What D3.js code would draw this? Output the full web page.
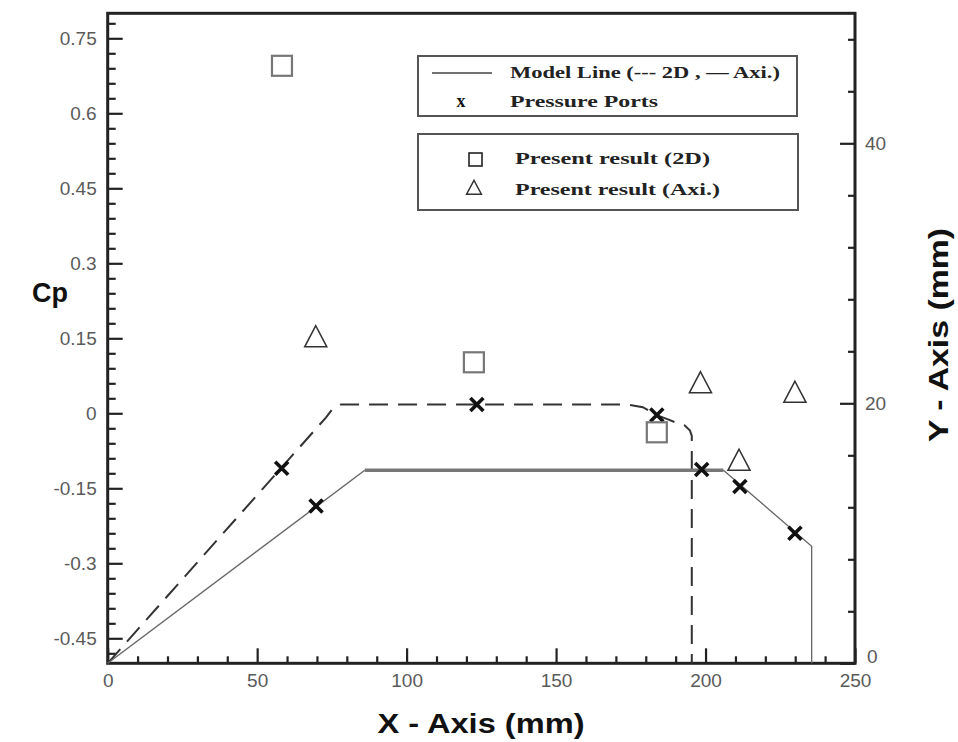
<!DOCTYPE html>
<html>
<head>
<meta charset="utf-8">
<script src="https://cdn.jsdelivr.net/npm/d3@7/dist/d3.min.js"></script>
<style>
  html, body { margin: 0; padding: 0; background: #fff; }
  svg { display: block; }
</style>
</head>
<body>
<svg id="chart" width="958" height="742"></svg>
<script>
// ---------- data ----------
// Model line 2D (dashed), in X (mm) / Y (mm)
const model2D_x = [0, 73, 75, 78, 174, 179, 183.6, 187, 190.3, 193, 194.8, 195.4, 195.4];
const model2D_y = [0, 18.9, 19.5, 19.9, 19.9, 19.7, 19.1, 18.8, 18.5, 18.3, 17.9, 17.5, 0];
// Model line Axi. (solid), in X (mm) / Y (mm)
const modelAxiSlope_x = [0, 86];
const modelAxiSlope_y = [0, 14.85];
const modelAxiFlat_x = [86, 206];
const modelAxiFlat_y = [14.85, 14.85];
const modelAxiTail_x = [206, 235.5, 235.5];
const modelAxiTail_y = [14.85, 9.0, 0];
// Pressure ports, X (mm) / Y (mm)
const ports_x = [58.2, 69.7, 123.5, 183.7, 198.7, 211.5, 229.9];
const ports_y = [15.0, 12.1, 19.9, 19.1, 14.9, 13.6, 10.0];
// Present result (2D): X (mm) / Cp
const res2D_x = [58.3, 122.5, 183.7];
const res2D_cp = [0.695, 0.102, -0.038];
// Present result (Axi.): X (mm) / Cp
const resAxi_x = [69.6, 198.3, 211.2, 229.9];
const resAxi_cp = [0.152, 0.060, -0.095, 0.041];
// tick labels
const xTicks = [0, 50, 100, 150, 200, 250];
const cpTicks = [-0.45, -0.3, -0.15, 0, 0.15, 0.3, 0.45, 0.6, 0.75];
const cpTickLabels = ["-0.45", "-0.3", "-0.15", "0", "0.15", "0.3", "0.45", "0.6", "0.75"];
const yTicks = [0, 20, 40];
const legendLabels = ["Model Line (--- 2D , \u2014 Axi.)", "Pressure Ports", "Present result (2D)", "Present result (Axi.)"];

// ---------- layout ----------
const svg = d3.select("#chart");
const L = 107.7, R = 855, T = 13.3, B = 663.3;
const x = d3.scaleLinear().domain([0, 250]).range([L, R]);
const yCp = d3.scaleLinear().domain([-0.5, 0.8]).range([B, T]);
const yMm = d3.scaleLinear().domain([0, 50]).range([B, T]);

const tickFont = "'Liberation Sans', Arial, sans-serif";

function styleAxis(g) {
  g.select(".domain").remove();
  g.selectAll(".tick line").attr("stroke", "#222").attr("stroke-width", 2.2);
  g.selectAll(".tick text").attr("fill", "#5a5a5a").attr("font-family", tickFont).attr("font-size", 19);
}

// minor ticks
const xMinor = d3.range(0, 251, 10).filter(v => v % 50 !== 0);
const cpMinor = d3.range(-16, 27).map(k => +(k * 0.03).toFixed(2)).filter(v => Math.abs(Math.round(v / 0.15) * 0.15 - v) > 1e-6 && v > -0.5 && v < 0.8);
const yMinor = d3.range(0, 51, 4).filter(v => v % 20 !== 0);

svg.append("g").attr("transform", `translate(0,${B})`)
  .call(d3.axisBottom(x).tickValues(xMinor).tickSize(-7).tickFormat(""))
  .call(styleAxis);
svg.append("g").attr("transform", `translate(0,${B})`)
  .call(d3.axisBottom(x).tickValues(xTicks).tickSize(-15).tickPadding(10).tickFormat(d3.format("d")))
  .call(styleAxis);

svg.append("g").attr("transform", `translate(${L},0)`)
  .call(d3.axisLeft(yCp).tickValues(cpMinor).tickSize(-8).tickFormat(""))
  .call(styleAxis);
svg.append("g").attr("transform", `translate(${L},0)`)
  .call(d3.axisLeft(yCp).tickValues(cpTicks).tickSize(-15).tickPadding(11).tickFormat((d, i) => cpTickLabels[i]))
  .call(styleAxis);

svg.append("g").attr("transform", `translate(${R},0)`)
  .call(d3.axisRight(yMm).tickValues(yMinor).tickSize(-7).tickFormat(""))
  .call(styleAxis);
const rightAxis = svg.append("g").attr("transform", `translate(${R},0)`)
  .call(d3.axisRight(yMm).tickValues(yTicks).tickSize(-15).tickPadding(10).tickFormat(d3.format("d")))
  .call(styleAxis);
// lift the bottom "0" label slightly, as in the reference, so it clears "250"
rightAxis.selectAll(".tick text").filter(d => d === 0).attr("dy", "-0.05em").attr("x", 12);

// frame
svg.append("rect").attr("x", L).attr("y", T).attr("width", R - L).attr("height", B - T)
  .attr("fill", "none").attr("stroke", "#222").attr("stroke-width", 3);

// ---------- model lines ----------
const lineMm = d3.line().x(d => x(d[0])).y(d => yMm(d[1]));
svg.append("path").datum(d3.zip(model2D_x, model2D_y)).attr("d", lineMm)
  .attr("fill", "none").attr("stroke", "#333").attr("stroke-width", 2).attr("stroke-dasharray", "19,10");
svg.append("path").datum(d3.zip(modelAxiSlope_x, modelAxiSlope_y)).attr("d", lineMm)
  .attr("fill", "none").attr("stroke", "#666").attr("stroke-width", 1.4);
svg.append("path").datum(d3.zip(modelAxiFlat_x, modelAxiFlat_y)).attr("d", lineMm)
  .attr("fill", "none").attr("stroke", "#777").attr("stroke-width", 3.5);
svg.append("path").datum(d3.zip(modelAxiTail_x, modelAxiTail_y)).attr("d", lineMm)
  .attr("fill", "none").attr("stroke", "#666").attr("stroke-width", 1.3);

// ---------- markers ----------
function xMark(g, cx, cy, s) {
  g.append("path")
    .attr("d", `M${cx - s},${cy - s}L${cx + s},${cy + s}M${cx - s},${cy + s}L${cx + s},${cy - s}`)
    .attr("stroke", "#111").attr("stroke-width", 3.6).attr("stroke-linecap", "butt").attr("fill", "none");
}
const portsG = svg.append("g");
d3.zip(ports_x, ports_y).forEach(d => xMark(portsG, x(d[0]), yMm(d[1]), 6.5));

svg.append("g").selectAll("rect").data(d3.zip(res2D_x, res2D_cp)).join("rect")
  .attr("x", d => x(d[0]) - 10).attr("y", d => yCp(d[1]) - 10)
  .attr("width", 20).attr("height", 20)
  .attr("fill", "none").attr("stroke", "#777").attr("stroke-width", 2.2);

function triPath(cx, cy, w, h) {
  return `M${cx},${cy - h * 0.55}L${cx + w / 2},${cy + h * 0.45}L${cx - w / 2},${cy + h * 0.45}Z`;
}
svg.append("g").selectAll("path").data(d3.zip(resAxi_x, resAxi_cp)).join("path")
  .attr("d", d => triPath(x(d[0]), yCp(d[1]), 22, 21))
  .attr("fill", "none").attr("stroke", "#333").attr("stroke-width", 1.6).attr("stroke-linejoin", "miter");

// ---------- legends ----------
const legFont = "'Liberation Serif', 'Times New Roman', serif";
const leg = svg.append("g");
leg.append("rect").attr("x", 418).attr("y", 56).attr("width", 379).attr("height", 60)
  .attr("fill", "#fff").attr("stroke", "#555").attr("stroke-width", 2);
leg.append("rect").attr("x", 418).attr("y", 134).attr("width", 380).attr("height", 76)
  .attr("fill", "#fff").attr("stroke", "#555").attr("stroke-width", 2);
leg.append("line").attr("x1", 432).attr("x2", 492).attr("y1", 73).attr("y2", 73)
  .attr("stroke", "#444").attr("stroke-width", 1.6);
leg.append("text").attr("x", 461).attr("y", 107).attr("text-anchor", "middle")
  .attr("font-family", legFont).attr("font-weight", "bold").attr("font-size", 18).attr("fill", "#111").text("x");
leg.append("rect").attr("x", 469).attr("y", 153).attr("width", 13).attr("height", 13)
  .attr("fill", "none").attr("stroke", "#222").attr("stroke-width", 1.6);
leg.append("path").attr("d", triPath(474, 188, 15, 14))
  .attr("fill", "none").attr("stroke", "#333").attr("stroke-width", 1.4);

const legRows = [
  { t: legendLabels[0], x: 510, y: 78, w: 270 },
  { t: legendLabels[1], x: 510, y: 107, w: 148 },
  { t: legendLabels[2], x: 515, y: 164, w: 195 },
  { t: legendLabels[3], x: 515, y: 195, w: 205 }
];
leg.selectAll("text.row").data(legRows).join("text").attr("class", "row")
  .attr("x", d => d.x).attr("y", d => d.y)
  .attr("font-family", legFont).attr("font-weight", "bold").attr("font-size", 17).attr("fill", "#222")
  .attr("textLength", d => d.w).attr("lengthAdjust", "spacingAndGlyphs")
  .text(d => d.t);

// ---------- axis titles ----------
const titleFont = "'Liberation Sans', Arial, sans-serif";
svg.append("text").attr("x", 481).attr("y", 733).attr("text-anchor", "middle")
  .attr("font-family", titleFont).attr("font-weight", "bold").attr("font-size", 27).attr("fill", "#111")
  .attr("textLength", 207).attr("lengthAdjust", "spacingAndGlyphs")
  .text("X - Axis (mm)");
svg.append("text").attr("x", 50).attr("y", 302).attr("text-anchor", "middle")
  .attr("font-family", titleFont).attr("font-weight", "bold").attr("font-size", 27).attr("fill", "#111")
  .text("Cp");
svg.append("text").attr("transform", "translate(948,335) rotate(-90)").attr("text-anchor", "middle")
  .attr("font-family", titleFont).attr("font-weight", "bold").attr("font-size", 27).attr("fill", "#111")
  .attr("textLength", 214).attr("lengthAdjust", "spacingAndGlyphs")
  .text("Y - Axis (mm)");
</script>
</body>
</html>
